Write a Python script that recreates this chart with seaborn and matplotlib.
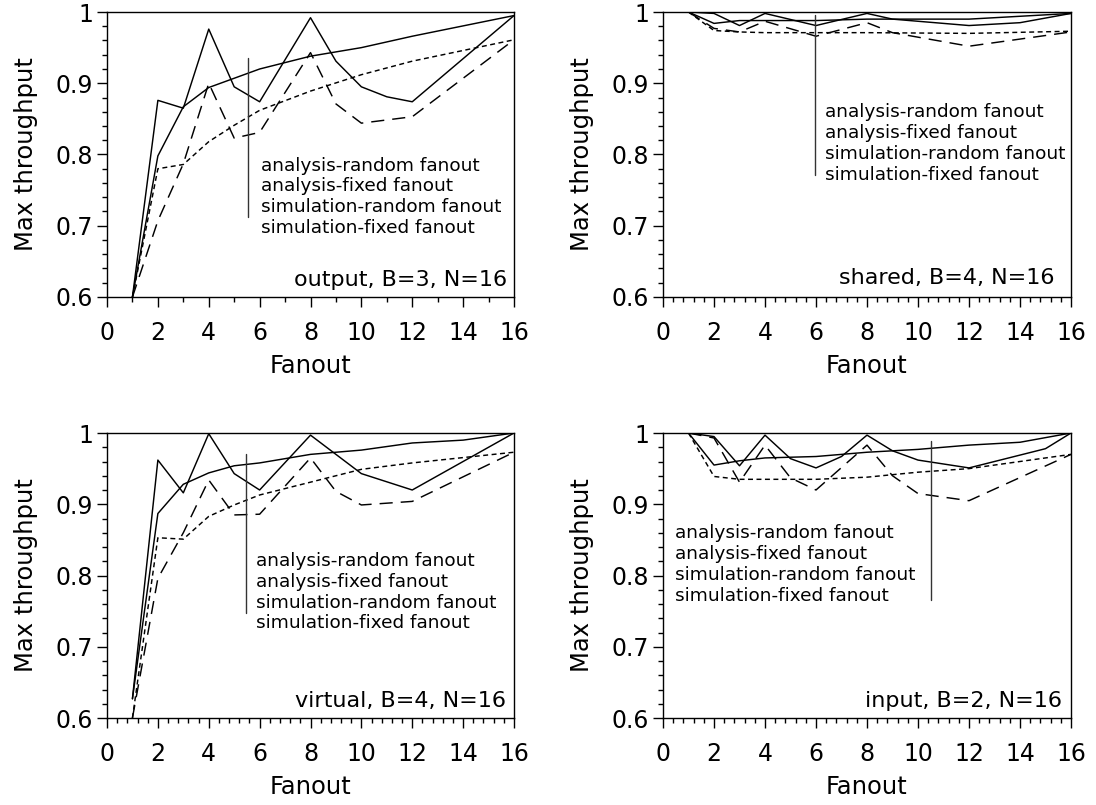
import numpy as np
import pandas as pd
import matplotlib
matplotlib.use("Agg")
import matplotlib.pyplot as plt
from matplotlib.lines import Line2D
from matplotlib.ticker import MultipleLocator, FuncFormatter
import seaborn as sns

# ---------------- data ----------------
series_names = ["analysis-random fanout", "analysis-fixed fanout",
                "simulation-random fanout", "simulation-fixed fanout"]

# output, B=3
out_ar_x = [1, 2, 3, 4, 5, 6, 8, 10, 12, 16]
out_ar_y = [0.600, 0.798, 0.867, 0.894, 0.907, 0.920, 0.938, 0.950, 0.966, 0.995]
out_af_x = [1, 2, 3, 4, 5, 6, 8, 9, 10, 11, 12, 16]
out_af_y = [0.600, 0.876, 0.865, 0.976, 0.895, 0.874, 0.992, 0.931, 0.895, 0.881, 0.874, 0.995]
out_sr_x = [1, 2, 3, 4, 5, 6, 8, 10, 12, 16]
out_sr_y = [0.600, 0.780, 0.786, 0.818, 0.841, 0.862, 0.889, 0.912, 0.931, 0.961]
out_sf_x = [1, 2, 3, 4, 5, 6, 8, 9, 10, 12, 16]
out_sf_y = [0.600, 0.707, 0.787, 0.900, 0.823, 0.831, 0.943, 0.871, 0.844, 0.853, 0.961]

# shared, B=4
sh_ar_x = [1, 2, 3, 4, 6, 8, 12, 16]
sh_ar_y = [1.000, 0.984, 0.988, 0.988, 0.988, 0.990, 0.990, 0.998]
sh_af_x = [1, 2, 3, 4, 6, 8, 9, 12, 14, 16]
sh_af_y = [1.000, 0.998, 0.981, 0.998, 0.981, 0.998, 0.990, 0.981, 0.985, 0.998]
sh_sr_x = [1, 2, 3, 4, 6, 8, 12, 16]
sh_sr_y = [1.000, 0.974, 0.972, 0.971, 0.971, 0.971, 0.970, 0.973]
sh_sf_x = [1, 2, 3, 4, 6, 8, 9, 12, 16]
sh_sf_y = [1.000, 0.977, 0.972, 0.987, 0.966, 0.985, 0.971, 0.952, 0.972]

# virtual, B=4
vi_ar_x = [1, 2, 3, 4, 5, 6, 8, 10, 12, 14, 16]
vi_ar_y = [0.627, 0.887, 0.928, 0.944, 0.954, 0.958, 0.970, 0.976, 0.986, 0.990, 1.000]
vi_af_x = [1, 2, 3, 4, 5, 6, 8, 10, 12, 16]
vi_af_y = [0.627, 0.962, 0.916, 0.999, 0.943, 0.920, 0.997, 0.943, 0.920, 1.000]
vi_sr_x = [1, 2, 3, 4, 5, 6, 8, 10, 12, 16]
vi_sr_y = [0.600, 0.853, 0.851, 0.883, 0.899, 0.913, 0.931, 0.949, 0.958, 0.973]
vi_sf_x = [1, 2, 3, 4, 5, 6, 8, 9, 10, 12, 16]
vi_sf_y = [0.600, 0.796, 0.860, 0.934, 0.885, 0.886, 0.965, 0.918, 0.899, 0.904, 0.973]

# input, B=2
in_ar_x = [1, 2, 3, 4, 6, 8, 10, 12, 14, 16]
in_ar_y = [1.000, 0.955, 0.961, 0.965, 0.967, 0.973, 0.977, 0.983, 0.987, 1.000]
in_af_x = [1, 2, 3, 4, 5, 6, 7, 8, 9, 10, 12, 15, 16]
in_af_y = [1.000, 0.995, 0.954, 0.997, 0.964, 0.951, 0.967, 0.997, 0.975, 0.962, 0.951, 0.978, 1.000]
in_sr_x = [1, 2, 3, 4, 6, 8, 10, 12, 16]
in_sr_y = [1.000, 0.939, 0.935, 0.935, 0.935, 0.938, 0.945, 0.950, 0.970]
in_sf_x = [1, 2, 3, 4, 5, 6, 8, 9, 10, 12, 16]
in_sf_y = [1.000, 0.993, 0.931, 0.983, 0.937, 0.920, 0.983, 0.940, 0.915, 0.905, 0.970]

panel_titles = ["output, B=3, N=16", "shared, B=4, N=16",
                "virtual, B=4, N=16", "input, B=2, N=16"]
y_ticks = [0.6, 0.7, 0.8, 0.9, 1.0]
x_ticks = [0, 2, 4, 6, 8, 10, 12, 14, 16]

panel_series = [
    [(out_ar_x, out_ar_y), (out_af_x, out_af_y), (out_sr_x, out_sr_y), (out_sf_x, out_sf_y)],
    [(sh_ar_x, sh_ar_y), (sh_af_x, sh_af_y), (sh_sr_x, sh_sr_y), (sh_sf_x, sh_sf_y)],
    [(vi_ar_x, vi_ar_y), (vi_af_x, vi_af_y), (vi_sr_x, vi_sr_y), (vi_sf_x, vi_sf_y)],
    [(in_ar_x, in_ar_y), (in_af_x, in_af_y), (in_sr_x, in_sr_y), (in_sf_x, in_sf_y)],
]

# ---------------- layout / style ----------------
sns.set_theme(style="ticks")
plt.rcParams["font.family"] = ["DejaVu Sans"]
plt.rcParams["axes.linewidth"] = 1.0
plt.rcParams["text.color"] = "black"
plt.rcParams["axes.labelcolor"] = "black"
plt.rcParams["legend.labelcolor"] = "black"

W, H = 1096, 805
fig = plt.figure(figsize=(W / 100, H / 100), dpi=100)

rects = [
    (107 / W, 1 - 297 / H, 407 / W, 285 / H),
    (663 / W, 1 - 297 / H, 408 / W, 285 / H),
    (107 / W, 1 - 718 / H, 407 / W, 285 / H),
    (663 / W, 1 - 718 / H, 408 / W, 285 / H),
]
x_minor = [1.0, 0.4, 0.4, 0.4]
# legend placement (data coords): text anchor, vertical bar x, bar y-range
legend_anchor = [(6.05, 0.797), (6.35, 0.872), (5.87, 0.833), (0.48, 0.872)]
bar_x = [5.56, 5.95, 5.45, 10.5]
bar_y = [(0.712, 0.936), (0.771, 0.996), (0.748, 0.971), (0.765, 0.989)]
title_pos = [(15.72, 0.615), (15.35, 0.618), (15.68, 0.615), (15.65, 0.615)]

dash_map = {
    "analysis-random fanout": "",
    "analysis-fixed fanout": "",
    "simulation-random fanout": (3.4, 2.4),
    "simulation-fixed fanout": (9.0, 5.5),
}
palette = {s: "black" for s in series_names}

for i in range(4):
    ax = fig.add_axes(rects[i])
    rows = []
    for name, (xs, ys) in zip(series_names, panel_series[i]):
        for xv, yv in zip(xs, ys):
            rows.append({"Fanout": xv, "Max throughput": yv, "series": name})
    df = pd.DataFrame(rows)
    sns.lineplot(data=df, x="Fanout", y="Max throughput", hue="series",
                 style="series", palette=palette, dashes=dash_map,
                 hue_order=series_names, style_order=series_names,
                 estimator=None, legend=False, linewidth=1.05, ax=ax)

    ax.set_xlim(0, 16)
    ax.set_ylim(0.6, 1.0)
    ax.set_xticks(x_ticks)
    ax.set_yticks(y_ticks)
    ax.xaxis.set_minor_locator(MultipleLocator(x_minor[i]))
    ax.yaxis.set_minor_locator(MultipleLocator(0.02))
    ax.yaxis.set_major_formatter(FuncFormatter(lambda v, p: f"{v:g}"))
    ax.tick_params(which="major", direction="out", length=7, width=1.0,
                   labelsize=17, color="black", labelcolor="black")
    ax.tick_params(axis="x", which="major", pad=10)
    ax.tick_params(axis="y", which="major", pad=3)
    ax.tick_params(which="minor", direction="out", length=3.5, width=1.0, color="black")
    for sp in ax.spines.values():
        sp.set_visible(True)
        sp.set_color("black")
        sp.set_linewidth(1.0)

    ax.set_xlabel("Fanout", fontsize=17.5, labelpad=6.5)
    ax.set_ylabel("Max throughput", fontsize=17.5, labelpad=13)

    # legend (text only, zero-length handles) and its vertical bar
    handles = [Line2D([], [], color="black", lw=0) for _ in series_names]
    ax.legend(handles, series_names, loc="upper left",
              bbox_to_anchor=legend_anchor[i], bbox_transform=ax.transData,
              frameon=False, handlelength=0, handletextpad=0, borderpad=0,
              borderaxespad=0, labelspacing=0.15, fontsize=13.3,
              labelcolor="black")
    ax.plot([bar_x[i], bar_x[i]], list(bar_y[i]), color="#333333", lw=1.0)

    ax.text(title_pos[i][0], title_pos[i][1], panel_titles[i], fontsize=16,
            ha="right", va="baseline", color="black")

fig.savefig("out.png", dpi=100)
